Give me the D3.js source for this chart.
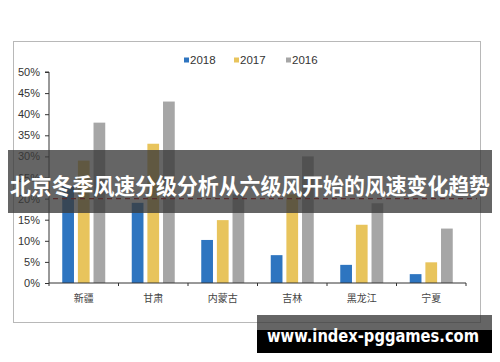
<!DOCTYPE html>
<html>
<head>
<meta charset="utf-8">
<script src="https://cdn.jsdelivr.net/npm/d3@7"></script>
<style>
  body { margin: 0; background: #fff; }
  svg { display: block; }
</style>
</head>
<body>
<svg id="chart" width="500" height="362"></svg>
<script>
// data
const categories = ['新疆', '甘肃', '内蒙古', '吉林', '黑龙江', '宁夏'];
const seriesNames = ['2018', '2017', '2016'];
const v2018 = [23, 19, 10.2, 6.6, 4.3, 2.1];
const v2017 = [29, 33, 14.9, 21, 13.8, 4.9];
const v2016 = [38, 43, 21, 30, 18.9, 12.9];
const seriesColors = ['#2e75c0', '#e8c45c', '#a6a6a6'];
const yTicks = [0, 5, 10, 15, 20, 25, 30, 35, 40, 45, 50];
const refLine = 20;
const title = '北京冬季风速分级分析从六级风开始的风速变化趋势';
const watermark = 'www.index-pggames.com';

const svg = d3.select('#chart');
const seriesVals = [v2018, v2017, v2016];

// outer frame
svg.append('rect')
  .attr('x', 13.5).attr('y', 41.5)
  .attr('width', 467).attr('height', 281)
  .attr('fill', '#fff')
  .attr('stroke', '#b8b8b8');

const x0 = d3.scaleBand().domain(categories).range([49, 466]);
const groupW = 43;
const x1 = d3.scaleBand().domain(seriesNames)
  .range([(x0.bandwidth() - groupW) / 2, (x0.bandwidth() + groupW) / 2])
  .paddingInner(0.25);
const y = d3.scaleLinear().domain([0, 50]).range([283, 72]);

// bars
const groups = svg.append('g').selectAll('g')
  .data(categories)
  .join('g')
  .attr('transform', (d) => `translate(${x0(d)},0)`);

groups.selectAll('rect')
  .data((d, i) => seriesNames.map((s, j) => ({ s, j, v: seriesVals[j][i] })))
  .join('rect')
  .attr('x', (d) => x1(d.s))
  .attr('width', x1.bandwidth())
  .attr('y', (d) => y(d.v))
  .attr('height', (d) => y(0) - y(d.v))
  .attr('fill', (d) => seriesColors[d.j]);

// y axis
const yAxis = svg.append('g')
  .attr('transform', 'translate(49,0)')
  .call(d3.axisLeft(y).tickValues(yTicks).tickSize(4).tickPadding(5)
    .tickFormat((d) => d + '%'));
yAxis.select('.domain').attr('stroke', '#333').attr('d', `M-4,${y(50)}H0V${y(0)}`);
yAxis.selectAll('.tick line').attr('stroke', '#333');
yAxis.selectAll('text')
  .attr('fill', '#333')
  .style('font', '11px "Liberation Sans", Arial, sans-serif');

// x axis
const xAxis = svg.append('g')
  .attr('transform', `translate(0,${y(0)})`)
  .call(d3.axisBottom(x0).tickSize(0).tickPadding(12));
xAxis.select('.domain').attr('stroke', '#333').attr('d', `M49,0H466`);
xAxis.selectAll('text')
  .attr('fill', '#444')
  .style('font', '10px "Noto Sans CJK SC", sans-serif');
xAxis.append('g').selectAll('line')
  .data(categories.concat(['end']))
  .join('line')
  .attr('x1', (d, i) => 49 + i * x0.step())
  .attr('x2', (d, i) => 49 + i * x0.step())
  .attr('y1', 0).attr('y2', 3)
  .attr('stroke', '#333');

// reference dashed line
svg.append('line')
  .attr('x1', 53).attr('x2', 477)
  .attr('y1', y(refLine)).attr('y2', y(refLine))
  .attr('stroke', '#c00000')
  .attr('stroke-width', 1.2)
  .attr('stroke-dasharray', '5,4');

// legend
const legend = svg.append('g').selectAll('g')
  .data(seriesNames)
  .join('g')
  .attr('transform', (d, i) => `translate(${[184, 234, 286][i]},60)`);
legend.append('rect')
  .attr('x', 0).attr('y', -2.5)
  .attr('width', 5).attr('height', 5)
  .attr('fill', (d, i) => seriesColors[i]);
legend.append('text')
  .attr('x', 6).attr('y', 4)
  .attr('fill', '#333')
  .style('font', '11.5px "Liberation Sans", Arial, sans-serif')
  .text((d) => d);

// title banner
svg.append('rect')
  .attr('x', 8).attr('y', 150)
  .attr('width', 484).attr('height', 63)
  .attr('fill', '#3a3a3a')
  .attr('opacity', 0.78);
svg.append('text')
  .attr('x', 250).attr('y', 184)
  .attr('text-anchor', 'middle')
  .attr('dominant-baseline', 'central')
  .attr('fill', '#fff')
  .attr('textLength', 480)
  .attr('lengthAdjust', 'spacingAndGlyphs')
  .style('font', 'bold 22px "Noto Sans CJK SC", sans-serif')
  .text(title);

// watermark
svg.append('rect')
  .attr('x', 257).attr('y', 315)
  .attr('width', 235).attr('height', 15)
  .attr('fill', '#3a3a3a')
  .attr('opacity', 0.78);
svg.append('rect')
  .attr('x', 257).attr('y', 330)
  .attr('width', 235).attr('height', 23)
  .attr('fill', '#000');
svg.append('text')
  .attr('x', 267).attr('y', 342)
  .attr('fill', '#fff')
  .attr('textLength', 212)
  .attr('lengthAdjust', 'spacingAndGlyphs')
  .style('font', 'bold 17px "DejaVu Sans", sans-serif')
  .text(watermark);
</script>
</body>
</html>
